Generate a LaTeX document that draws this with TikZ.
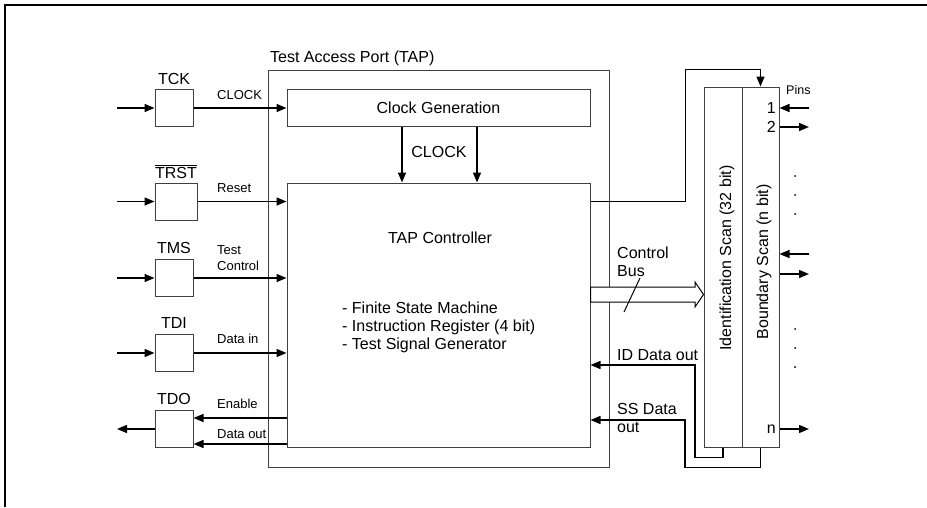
\documentclass[tikz,border=0pt]{standalone}
\usepackage{fontspec}
\setmainfont{Liberation Sans}
\usetikzlibrary{arrows.meta,positioning}

\tikzset{
  pad/.style={draw=black!75, line width=1pt, minimum width=38pt, minimum height=37pt, inner sep=0pt},
  block/.style={draw=black!75, line width=1pt, inner sep=0pt},
  padname/.style={font=\fontsize{16}{19}\selectfont, inner sep=0pt},
  sig/.style={font=\fontsize{13}{16}\selectfont, inner sep=0pt, align=left},
  txt/.style={font=\fontsize{16}{18}\selectfont, inner sep=0pt, align=left},
  wire/.style={line width=1.5pt, -{Triangle[length=10pt,width=8pt]}},
}

\begin{document}
\begin{tikzpicture}[x=1pt, y=-1pt]
  \useasboundingbox (0,0) rectangle (927,507);
  % frame
  \draw[line width=2.2pt] (5,507) -- (5,5) -- (927,5);

  % JTAG pads
  \node[pad] (tck) at (174,108) {};
  \node[pad, minimum width=42pt] (trst) at (176,201.5) {};
  \node[pad] (tms) at (174,278) {};
  \node[pad] (tdi) at (174,353) {};
  \node[pad] (tdo) at (174,429) {};
  \node[padname, above=4pt of tck] (tckname) {TCK};
  \node[padname, above=4pt of trst] (trstname) {$\overline{\hbox{TRST}}$};
  \node[padname, above=5pt of tms] (tmsname) {TMS};
  \node[padname, above=5pt of tdi] (tdiname) {TDI};
  \node[padname, above=5pt of tdo] (tdoname) {TDO};

  % test access port
  \node[block, minimum width=341pt, minimum height=397pt] (tap) at (438.5,268.5) {};
  \node[txt, anchor=base west] (taplabel) at (270,62) {Test Access Port (TAP)};
  \node[block, txt, minimum width=303pt, minimum height=37pt] (clkgen) at (438.5,107.5) {Clock Generation};
  \node[block, minimum width=303pt, minimum height=264pt] (tapc) at (438.5,315) {};
  \node[txt] (tapctitle) at (440,238) {TAP Controller};
  \node[txt, anchor=north west] (tapclist) at (342,302)
    {- Finite State Machine\\- Instruction Register (4 bit)\\- Test Signal Generator};

  % scan chains
  \node[block, minimum width=38pt, minimum height=360pt] (idscan) at (723,267) {};
  \node[block, minimum width=37pt, minimum height=360pt] (bscan) at (760.5,267) {};
  \node[txt, rotate=90] (idtext) at (727,258) {Identification Scan (32 bit)};
  \node[txt, rotate=90] (btext) at (764,262) {Boundary Scan (n bit)};

  % inputs and outputs of the pads
  \foreach \p in {tck,trst,tms,tdi} {
    \coordinate (\p-in) at (117,0 |- \p);
    \draw[wire] (\p-in) -- (\p);
  }
  \coordinate (tdo-out) at (117,429);
  \draw[wire] (tdo) -- (tdo-out);

  \draw[wire] (tck) -- (clkgen.west |- tck);
  \draw[wire] (trst) -- (tapc.west |- trst);
  \draw[wire] (tms) -- (tapc.west |- tms);
  \draw[wire] (tdi) -- (tapc.west |- tdi);
  \draw[wire] (tapc.west |- 0,418) -- (tdo.east |- 0,418);
  \draw[wire] (tapc.west |- 0,444) -- (tdo.east |- 0,444);

  \node[sig, anchor=base west] (clocklbl) at (217,99) {CLOCK};
  \node[sig, anchor=base west] (resetlbl) at (217,192) {Reset};
  \node[sig, anchor=south west] (testlbl) at (217,271) {Test\\Control};
  \node[sig, anchor=base west] (datainlbl) at (217,343) {Data in};
  \node[sig, anchor=base west] (enablelbl) at (217,408) {Enable};
  \node[sig, anchor=base west] (dataoutlbl) at (217,438) {Data out};

  % clock into the controller
  \draw[wire] ([xshift=-36.5pt]clkgen.south) -- ([xshift=-36.5pt]tapc.north);
  \draw[wire] ([xshift=38.5pt]clkgen.south) -- ([xshift=38.5pt]tapc.north);
  \node[txt, anchor=base] (clk2lbl) at (439,157) {CLOCK};

  % controller to scan chains
  \draw[wire] (tapc.east |- trst) -- ++(95,0) |- ([yshift=17pt]bscan.north) -- (bscan.north);
  \draw[line width=1pt, fill=white] (tapc.east |- 0,287) -- (695,287) -- (695,282)
    -- (idscan.west |- 0,294.5) -- (695,307) -- (695,302) -- (tapc.east |- 0,302) -- cycle;
  \draw[line width=1pt] (624,312) -- (640,278);
  \node[txt, anchor=south west] (buslbl) at (617,277) {Control\\Bus};

  \draw[wire] (idscan.south) |- ++(-28,10) |- (tapc.east |- 0,365);
  \draw[wire] (bscan.south) |- ++(-75.5,20) |- (tapc.east |- 0,420);
  \node[txt, anchor=base west] (idlbl) at (617,360) {ID Data out};
  \node[txt, anchor=south west] (sslbl) at (617,433) {SS Data\\out};

  % pins
  \node[font=\fontsize{12.5}{15}\selectfont, inner sep=0pt, anchor=base west] (pinslbl) at (786,94) {Pins};
  \coordinate (pin1) at (809,108);
  \coordinate (pin2) at (809,127);
  \coordinate (pinx) at (809,254);
  \coordinate (piny) at (809,274);
  \coordinate (pinn) at (809,429);
  \draw[wire] (pin1) -- (bscan.east |- pin1);
  \draw[wire] (bscan.east |- pin2) -- (pin2);
  \draw[wire] (pinx) -- (bscan.east |- pinx);
  \draw[wire] (bscan.east |- piny) -- (piny);
  \draw[wire] (bscan.east |- pinn) -- (pinn);
  \node[txt, anchor=east] (pin1lbl) at (776,108) {1};
  \node[txt, anchor=east] (pin2lbl) at (776,126.5) {2};
  \node[txt, anchor=east] (pinnlbl) at (776,429.5) {n};
  \foreach \y in {176,195,214,329,348,367}
    \fill (795,\y) circle (1pt);
\end{tikzpicture}
\end{document}
